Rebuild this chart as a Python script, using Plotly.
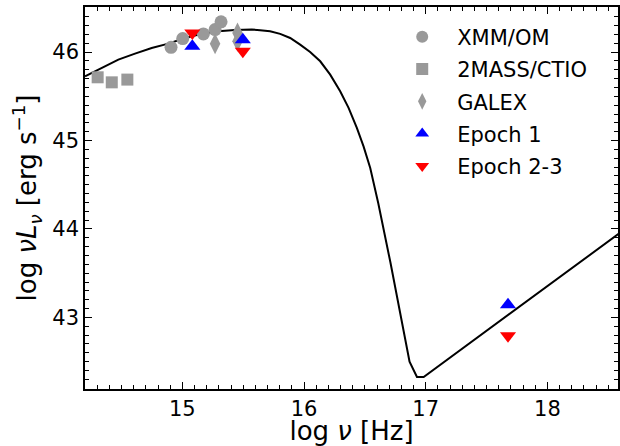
import plotly.graph_objects as go

# Model curve
model_x = [14.2, 14.337, 14.474, 14.611, 14.748, 14.885, 15.022, 15.159, 15.296, 15.433,
           15.57, 15.639, 15.721, 15.804, 15.886, 15.968, 16.05, 16.133, 16.215, 16.297,
           16.366, 16.434, 16.489, 16.544, 16.61, 16.71, 16.79, 16.867, 16.928, 16.983, 18.6]
model_y = [45.726, 45.821, 45.915, 45.983, 46.047, 46.096, 46.16, 46.206, 46.235, 46.251,
           46.255, 46.248, 46.235, 46.206, 46.16, 46.085, 46.002, 45.896, 45.745, 45.557,
           45.369, 45.143, 44.934, 44.69, 44.29, 43.62, 43.05, 42.50, 42.326, 42.326, 43.96]

xmm_x = [14.907, 15.003, 15.173, 15.269, 15.318]
xmm_y = [46.054, 46.153, 46.206, 46.255, 46.342]

mass_x = [14.304, 14.42, 14.548]
mass_y = [45.715, 45.658, 45.689]

galex_x = [15.269, 15.453, 15.453]
galex_y = [46.093, 46.217, 46.122]

ep1_x = [15.082, 15.497, 17.676]
ep1_y = [46.066, 46.141, 43.144]

ep23_x = [15.082, 15.497, 17.676]
ep23_y = [46.217, 46.009, 42.793]

GREY = "#999999"
FONT = "DejaVu Sans"

fig = go.Figure()
fig.add_trace(go.Scatter(x=model_x, y=model_y, mode="lines",
                         line=dict(color="black", width=2), showlegend=False))
fig.add_trace(go.Scatter(x=xmm_x, y=xmm_y, mode="markers", name="XMM/OM", legendgroup="a",
                         marker=dict(symbol="circle", size=13, color=GREY)))
fig.add_trace(go.Scatter(x=mass_x, y=mass_y, mode="markers", name="2MASS/CTIO", legendgroup="b",
                         marker=dict(symbol="square", size=12, color=GREY)))
fig.add_trace(go.Scatter(x=galex_x, y=galex_y, mode="markers", name="GALEX", legendgroup="c",
                         marker=dict(symbol="diamond-tall", size=15, color=GREY)))
fig.add_trace(go.Scatter(x=ep1_x, y=ep1_y, mode="markers", name="Epoch 1", legendgroup="d",
                         marker=dict(symbol="triangle-up", size=14, color="#0000ff")))
fig.add_trace(go.Scatter(x=ep23_x, y=ep23_y, mode="markers", name="Epoch 2-3", legendgroup="e",
                         marker=dict(symbol="triangle-down", size=14, color="#ff0000")))

axis_common = dict(showgrid=False, zeroline=False, showline=True, linecolor="black", linewidth=1.5,
                   mirror="ticks", ticks="inside", ticklen=7, tickwidth=1.2, tickcolor="black",
                   automargin=False,
                   tickfont=dict(family=FONT, size=21, color="black"),
                   minor=dict(ticks="inside", ticklen=4, tickwidth=1, tickcolor="black", dtick=0.1))

fig.update_xaxes(range=[14.2, 18.58], tickvals=[15, 16, 17, 18],
                 title=dict(text="log <i>ν</i> [Hz]", font=dict(family=FONT, size=26, color="black"),
                            standoff=9),
                 **axis_common)
fig.update_yaxes(range=[42.19, 46.51], tickvals=[43, 44, 45, 46],
                 title=dict(text="log <i>νL<sub>ν</sub></i> [erg s<sup>−1</sup>]",
                            font=dict(family=FONT, size=26, color="black"), standoff=8),
                 **axis_common)

fig.update_layout(
    width=620, height=446,
    margin=dict(l=85, r=2, t=7, b=57),
    paper_bgcolor="white", plot_bgcolor="white",
    font=dict(family=FONT, color="black"),
    legend=dict(x=0.567, y=0.975, xanchor="left", yanchor="top", bgcolor="rgba(0,0,0,0)",
                font=dict(family=FONT, size=21, color="black"), tracegroupgap=2,
                itemsizing="constant", itemwidth=60),
)

fig.write_html("out.html", config={"displayModeBar": False},
               post_script="document.body.style.margin='0px';")
